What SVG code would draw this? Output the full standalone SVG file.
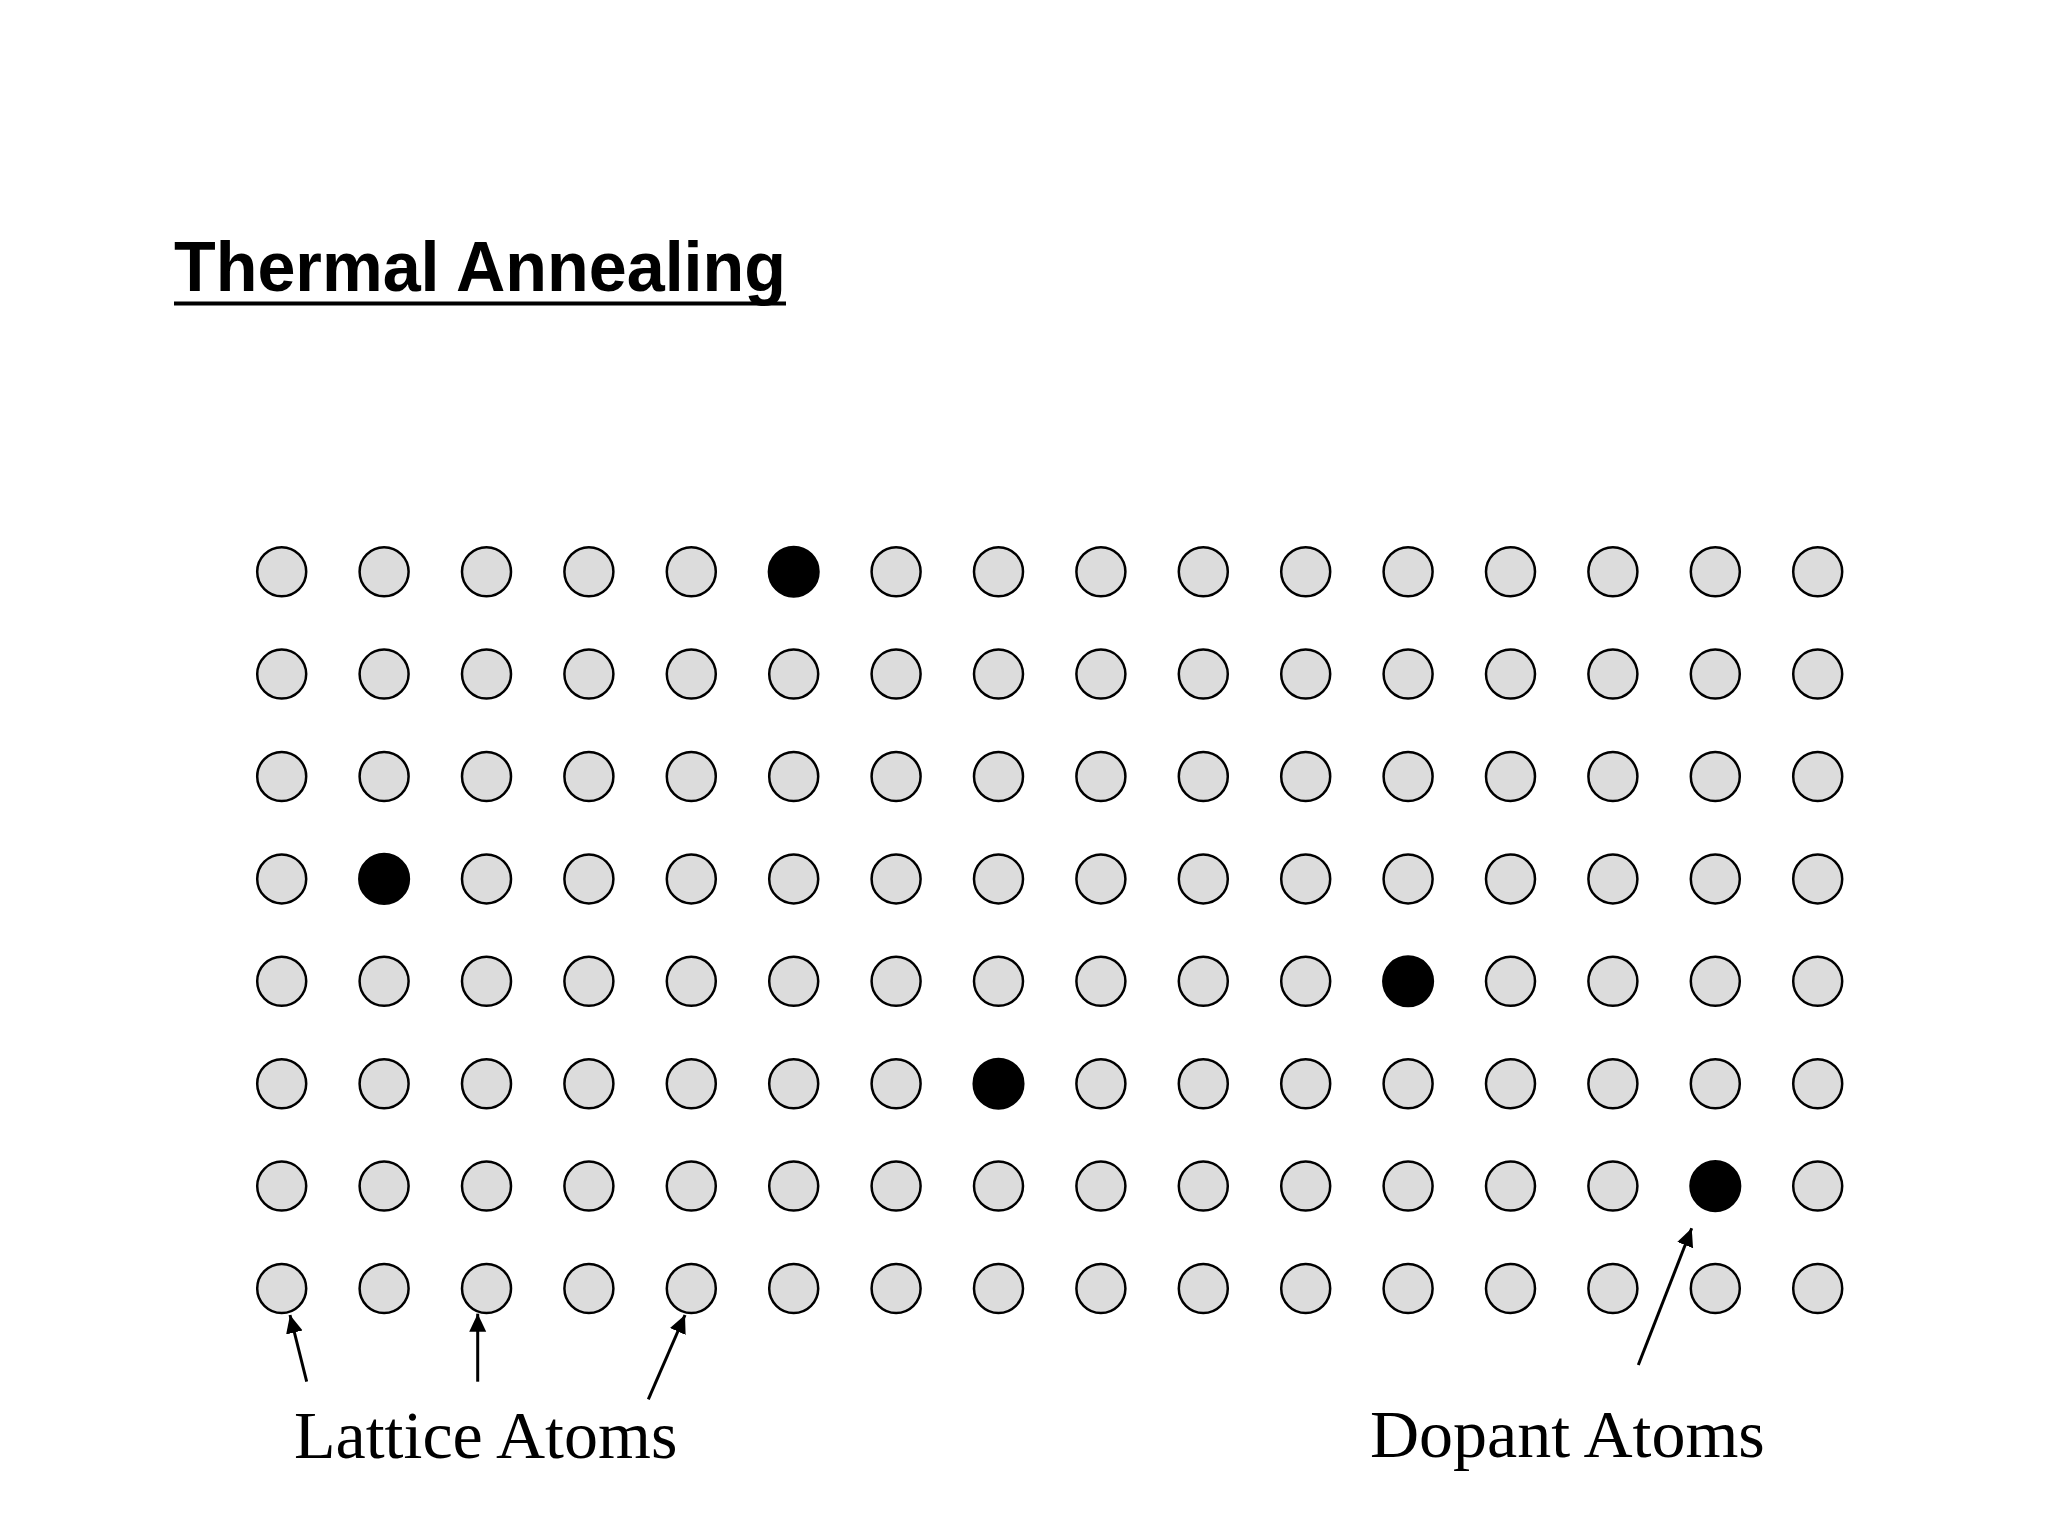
<svg xmlns="http://www.w3.org/2000/svg" width="2048" height="1536" viewBox="0 0 2048 1536">
<style>
.a{fill:#dcdcdc;stroke:#000;stroke-width:2.5}
.d{fill:#000;stroke:#000;stroke-width:2.5}
.t{font-family:"Liberation Sans",Arial,sans-serif;font-weight:bold;font-size:70px;fill:#000}
.l{font-family:"Liberation Serif","Times New Roman",serif;font-size:68px;fill:#000}
.c{stroke:#000;stroke-width:3;fill:none;marker-end:url(#ah)}
</style>
<defs>
<marker id="ah" markerUnits="userSpaceOnUse" markerWidth="20" markerHeight="20" viewBox="0 0 20 20" refX="18" refY="10" orient="auto">
<path d="M0,1.5 L18,10 L0,18.5 Z" fill="#000"/>
</marker>
<circle id="atom" r="24.5" class="a"/>
</defs>
<rect width="2048" height="1536" fill="#fff"/>
<g id="title">
<text class="t" x="174" y="291" textLength="612" lengthAdjust="spacingAndGlyphs">Thermal Annealing</text>
<line x1="174" y1="303.5" x2="786" y2="303.5" stroke="#000" stroke-width="4"/>
</g>
<g id="lattice">
<g id="row0" transform="translate(0,571.7)">
<use href="#atom" x="281.7"/><use href="#atom" x="384.1"/><use href="#atom" x="486.5"/><use href="#atom" x="588.9"/><use href="#atom" x="691.3"/><circle id="dopant1" cx="793.7" cy="0" r="24.8" class="d"/><use href="#atom" x="896.1"/><use href="#atom" x="998.5"/><use href="#atom" x="1100.9"/><use href="#atom" x="1203.3"/><use href="#atom" x="1305.7"/><use href="#atom" x="1408.1"/><use href="#atom" x="1510.5"/><use href="#atom" x="1612.9"/><use href="#atom" x="1715.3"/><use href="#atom" x="1817.7"/>
</g>
<g id="row1" transform="translate(0,674.1)">
<use href="#atom" x="281.7"/><use href="#atom" x="384.1"/><use href="#atom" x="486.5"/><use href="#atom" x="588.9"/><use href="#atom" x="691.3"/><use href="#atom" x="793.7"/><use href="#atom" x="896.1"/><use href="#atom" x="998.5"/><use href="#atom" x="1100.9"/><use href="#atom" x="1203.3"/><use href="#atom" x="1305.7"/><use href="#atom" x="1408.1"/><use href="#atom" x="1510.5"/><use href="#atom" x="1612.9"/><use href="#atom" x="1715.3"/><use href="#atom" x="1817.7"/>
</g>
<g id="row2" transform="translate(0,776.5)">
<use href="#atom" x="281.7"/><use href="#atom" x="384.1"/><use href="#atom" x="486.5"/><use href="#atom" x="588.9"/><use href="#atom" x="691.3"/><use href="#atom" x="793.7"/><use href="#atom" x="896.1"/><use href="#atom" x="998.5"/><use href="#atom" x="1100.9"/><use href="#atom" x="1203.3"/><use href="#atom" x="1305.7"/><use href="#atom" x="1408.1"/><use href="#atom" x="1510.5"/><use href="#atom" x="1612.9"/><use href="#atom" x="1715.3"/><use href="#atom" x="1817.7"/>
</g>
<g id="row3" transform="translate(0,878.9)">
<use href="#atom" x="281.7"/><circle id="dopant2" cx="384.1" cy="0" r="24.8" class="d"/><use href="#atom" x="486.5"/><use href="#atom" x="588.9"/><use href="#atom" x="691.3"/><use href="#atom" x="793.7"/><use href="#atom" x="896.1"/><use href="#atom" x="998.5"/><use href="#atom" x="1100.9"/><use href="#atom" x="1203.3"/><use href="#atom" x="1305.7"/><use href="#atom" x="1408.1"/><use href="#atom" x="1510.5"/><use href="#atom" x="1612.9"/><use href="#atom" x="1715.3"/><use href="#atom" x="1817.7"/>
</g>
<g id="row4" transform="translate(0,981.3)">
<use href="#atom" x="281.7"/><use href="#atom" x="384.1"/><use href="#atom" x="486.5"/><use href="#atom" x="588.9"/><use href="#atom" x="691.3"/><use href="#atom" x="793.7"/><use href="#atom" x="896.1"/><use href="#atom" x="998.5"/><use href="#atom" x="1100.9"/><use href="#atom" x="1203.3"/><use href="#atom" x="1305.7"/><circle id="dopant3" cx="1408.1" cy="0" r="24.8" class="d"/><use href="#atom" x="1510.5"/><use href="#atom" x="1612.9"/><use href="#atom" x="1715.3"/><use href="#atom" x="1817.7"/>
</g>
<g id="row5" transform="translate(0,1083.7)">
<use href="#atom" x="281.7"/><use href="#atom" x="384.1"/><use href="#atom" x="486.5"/><use href="#atom" x="588.9"/><use href="#atom" x="691.3"/><use href="#atom" x="793.7"/><use href="#atom" x="896.1"/><circle id="dopant4" cx="998.5" cy="0" r="24.8" class="d"/><use href="#atom" x="1100.9"/><use href="#atom" x="1203.3"/><use href="#atom" x="1305.7"/><use href="#atom" x="1408.1"/><use href="#atom" x="1510.5"/><use href="#atom" x="1612.9"/><use href="#atom" x="1715.3"/><use href="#atom" x="1817.7"/>
</g>
<g id="row6" transform="translate(0,1186.1)">
<use href="#atom" x="281.7"/><use href="#atom" x="384.1"/><use href="#atom" x="486.5"/><use href="#atom" x="588.9"/><use href="#atom" x="691.3"/><use href="#atom" x="793.7"/><use href="#atom" x="896.1"/><use href="#atom" x="998.5"/><use href="#atom" x="1100.9"/><use href="#atom" x="1203.3"/><use href="#atom" x="1305.7"/><use href="#atom" x="1408.1"/><use href="#atom" x="1510.5"/><use href="#atom" x="1612.9"/><circle id="dopant5" cx="1715.3" cy="0" r="24.8" class="d"/><use href="#atom" x="1817.7"/>
</g>
<g id="row7" transform="translate(0,1288.5)">
<use href="#atom" x="281.7"/><use href="#atom" x="384.1"/><use href="#atom" x="486.5"/><use href="#atom" x="588.9"/><use href="#atom" x="691.3"/><use href="#atom" x="793.7"/><use href="#atom" x="896.1"/><use href="#atom" x="998.5"/><use href="#atom" x="1100.9"/><use href="#atom" x="1203.3"/><use href="#atom" x="1305.7"/><use href="#atom" x="1408.1"/><use href="#atom" x="1510.5"/><use href="#atom" x="1612.9"/><use href="#atom" x="1715.3"/><use href="#atom" x="1817.7"/>
</g>
</g>
<g id="connectors">
<line class="c" x1="306.7" y1="1381.7" x2="290" y2="1315"/>
<line class="c" x1="477.7" y1="1381.7" x2="477.7" y2="1313.7"/>
<line class="c" x1="648.3" y1="1399.3" x2="685" y2="1315"/>
<line class="c" x1="1638.3" y1="1365" x2="1691.7" y2="1228.3"/>
</g>
<g id="label-lattice"><text class="l" x="294" y="1458">Lattice Atoms</text></g>
<g id="label-dopant"><text class="l" x="1370" y="1457">Dopant Atoms</text></g>
</svg>
